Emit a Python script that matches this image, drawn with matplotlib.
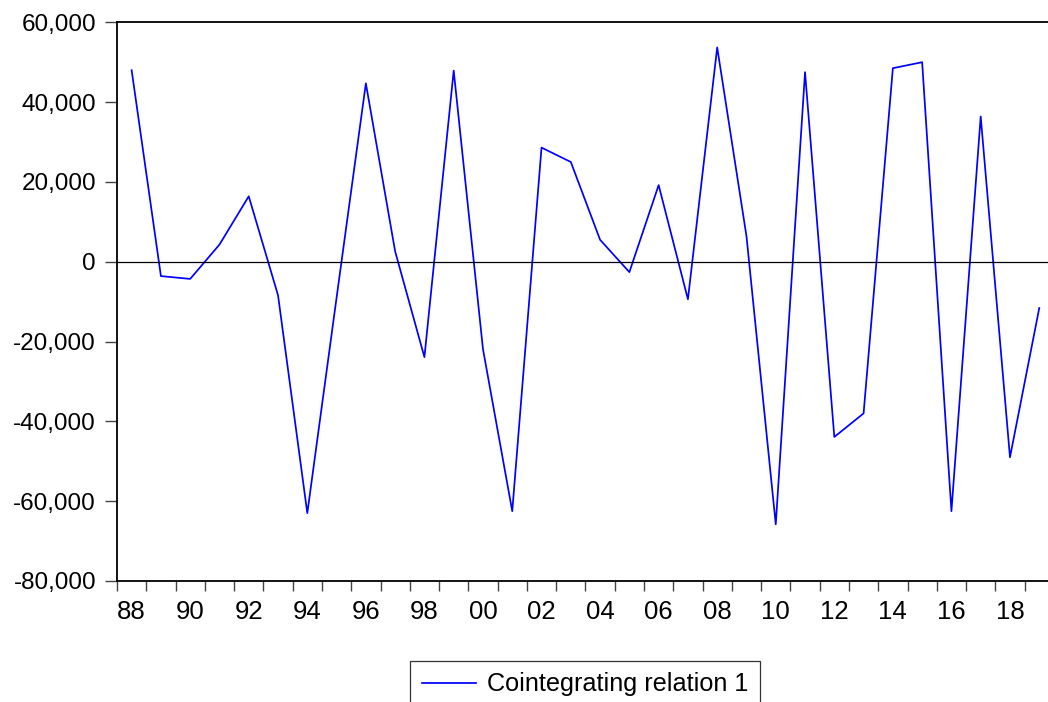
import matplotlib
matplotlib.use("Agg")
import matplotlib.pyplot as plt
from matplotlib.ticker import FixedLocator, FuncFormatter, NullFormatter

plt.rcParams['font.family'] = ['Liberation Sans', 'DejaVu Sans']

years = list(range(1988, 2020))
values = [48000, -3600, -4300, 4300, 16400, -8400, -63000, -9000, 44700, 2600,
          -23900, 47900, -21900, -62500, 28600, 25000, 5500, -2600, 19200, -9400,
          53700, 6400, -65800, 47500, -43900, -38000, 48500, 50000, -62500, 36400,
          -49000, -11600]
series_label = "Cointegrating relation 1"
y_ticks = [60000, 40000, 20000, 0, -20000, -40000, -60000, -80000]

fig = plt.figure(figsize=(10.48, 7.02), dpi=100)
ax = fig.add_axes([117/1048, 1-581/702, 936.9/1048, (581-22.3)/702])

line, = ax.plot(years, values, color=(0, 0, 1), linewidth=1.25, label=series_label)
ax.axhline(0, color='black', linewidth=0.9)

ax.set_xlim(years[0]-0.5, years[-1]+0.5)
ax.set_ylim(-80000, 60000)

ax.set_yticks(y_ticks)
ax.yaxis.set_major_formatter(FuncFormatter(lambda v, p: f"{int(v):,}"))
ax.tick_params(axis='y', direction='out', length=8.6, width=1, labelsize=17.5,
               pad=6.5, color='#444444')

# boundaries between years as tick marks, labels at even years centered
ax.xaxis.set_major_locator(FixedLocator([y - 0.5 for y in years] + [years[-1] + 0.5]))
ax.xaxis.set_major_formatter(NullFormatter())
ax.xaxis.set_minor_locator(FixedLocator([y for y in years if y % 2 == 0]))
ax.xaxis.set_minor_formatter(FuncFormatter(lambda v, p: f"{int(round(v)) % 100:02d}"))
ax.tick_params(axis='x', which='major', direction='out', length=7.2, width=1, color='#444444')
ax.tick_params(axis='x', which='minor', length=0, labelsize=18.5, pad=14)

for s in ax.spines.values():
    s.set_linewidth(1.3)
    s.set_color('black')

leg = fig.legend(handles=[line], loc='upper center',
                 bbox_to_anchor=(585/1048, 1-661/702), fontsize=18.2,
                 frameon=True, fancybox=False, edgecolor='black',
                 handlelength=2.13, borderpad=0.45, handletextpad=0.45,
                 borderaxespad=0)
leg.get_frame().set_linewidth(0.9)

fig.savefig("out.png", dpi=100)
